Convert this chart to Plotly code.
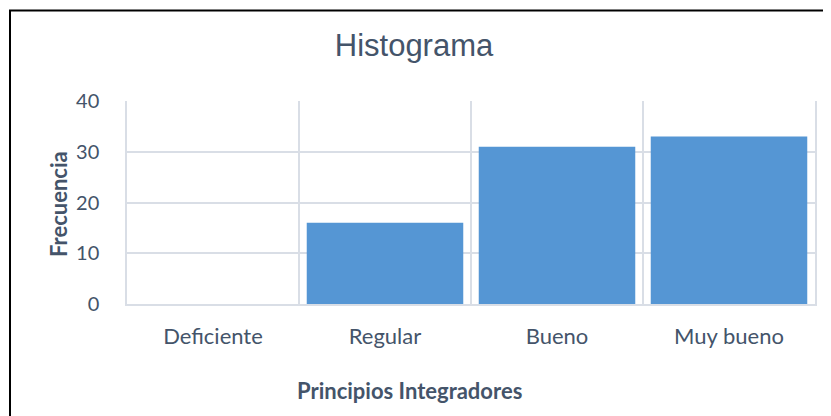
import plotly.graph_objects as go

categories = ["Deficiente", "Regular", "Bueno", "Muy bueno"]
frecuencia = [0, 16, 31, 33]
y_ticks = [0, 10, 20, 30, 40]

# page has an 8px body margin; size the figure so that it fills the 831x416 window
OFF = 8
W, H = 831 - OFF, 416 - OFF
ML, MT = 127 - OFF, 101 - OFF
PW, PH = 688, 203
MR = W - ML - PW
MB = H - MT - PH

txt = "#44546A"
grid = "#D9DEE6"
font_fam = "Lato, Carlito, sans-serif"


def px_x(x_page):
    return (x_page - OFF - ML) / PW


def px_y(y_page):
    return (PH + MT - (y_page - OFF)) / PH


fig = go.Figure(go.Bar(
    x=categories, y=frecuencia,
    marker=dict(color="#5596D4", line=dict(width=0)),
))

fig.update_layout(
    width=W, height=H,
    margin=dict(l=ML, r=MR, t=MT, b=MB),
    paper_bgcolor="white", plot_bgcolor="white",
    bargap=0.09,
    font=dict(family=font_fam, color=txt, size=20),
    title=dict(text="Histograma", x=(414 - OFF) / W, xanchor="center", xref="container",
               y=1 - (45 - OFF) / H, yanchor="middle", yref="container",
               font=dict(size=31, color=txt, family="Liberation Sans, Arial, sans-serif")),
    showlegend=False,
)
fig.update_xaxes(
    type="category", tickson="boundaries", showgrid=True, gridcolor=grid, gridwidth=1.5,
    showline=True, linecolor=grid, linewidth=1.5, ticks="", ticklabelstandoff=12,
    tickfont=dict(size=22, color=txt),
)
fig.update_yaxes(
    range=[0, 40], tickvals=y_ticks, showgrid=True, gridcolor=grid, gridwidth=1.5,
    zeroline=False, showline=True, mirror=True, linecolor=grid, linewidth=1.5,
    ticks="", ticklabelstandoff=22,
    tickfont=dict(size=20, color=txt),
)
# y-axis title
fig.add_annotation(text="<b>Frecuencia</b>", xref="paper", yref="paper",
                   x=px_x(58), y=px_y(204), xanchor="center", yanchor="middle",
                   textangle=-90, showarrow=False,
                   font=dict(size=22, color=txt, family=font_fam))
# x-axis title, centred on the chart area as in the reference
fig.add_annotation(text="<b>Principios Integradores</b>", xref="paper", yref="paper",
                   x=px_x(409), y=px_y(390), xanchor="center", yanchor="middle",
                   showarrow=False, font=dict(size=22, color=txt, family=font_fam))
# chart border (left and top edges visible)
fig.add_shape(type="rect", xref="paper", yref="paper",
              x0=px_x(10), x1=px_x(845), y0=px_y(445), y1=px_y(10.5),
              line=dict(color="black", width=2), fillcolor="rgba(0,0,0,0)", layer="above")

fig.write_html("out.html")
